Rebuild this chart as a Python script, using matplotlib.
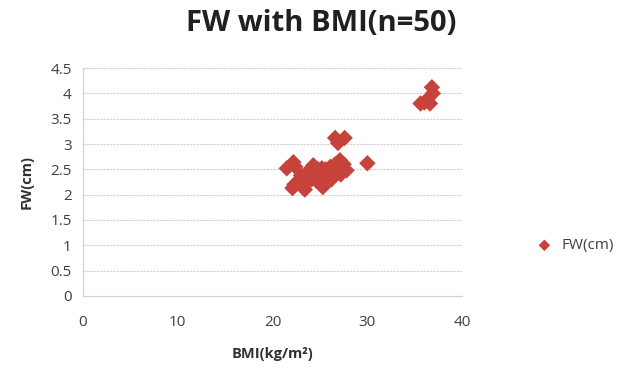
import numpy as np
import matplotlib.pyplot as plt

plt.rcParams['font.family'] = ['Open Sans', 'DejaVu Sans']

# BMI (kg/m^2) and FW (cm) (n=50, many overlap)
bmi = [21.5, 22.2, 22.4, 22.1, 22.3, 22.9, 23.4, 23.0, 23.5, 23.8,
       24.0, 24.2, 24.3, 24.5, 24.6, 24.8, 25.0, 25.1, 25.3, 25.5,
       25.6, 25.8, 26.0, 26.1, 26.3, 26.5, 26.6, 26.8, 27.0, 27.1,
       27.3, 27.5, 27.8, 23.2, 24.1, 25.2, 26.2, 27.2, 23.7, 24.9,
       26.6, 26.9, 27.6, 30.0, 35.6, 36.0, 36.3, 36.6, 36.9, 36.8]
fw = [2.52, 2.64, 2.55, 2.13, 2.2, 2.3, 2.1, 2.38, 2.25, 2.42,
      2.5, 2.35, 2.58, 2.45, 2.28, 2.5, 2.42, 2.3, 2.15, 2.4,
      2.5, 2.35, 2.45, 2.55, 2.4, 2.5, 2.6, 2.45, 2.55, 2.68,
      2.5, 2.6, 2.48, 2.2, 2.3, 2.52, 2.3, 2.4, 2.45, 2.35,
      3.12, 3.02, 3.12, 2.62, 3.8, 3.82, 3.87, 3.8, 4.0, 4.12]

xticks = [0, 10, 20, 30, 40]
yticks = [0, 0.5, 1, 1.5, 2, 2.5, 3, 3.5, 4, 4.5]

fig = plt.figure(figsize=(6.42, 3.78), dpi=100)
ax = fig.add_axes([0.129, 0.217, 0.591, 0.603])

ax.scatter(bmi, fw, marker='D', s=70, color='#C7423A', edgecolors='none',
           label='FW(cm)', zorder=3)

ax.set_xlim(0, 40)
ax.set_ylim(0, 4.5)
ax.set_xticks(xticks)
ax.set_yticks(yticks)
ax.set_yticklabels([f'{v:g}' for v in yticks])
ax.grid(axis='y', color='#d0d0d0', linestyle=(0, (2, 1)), linewidth=0.8)
ax.tick_params(length=0, labelsize=11, colors='#404040', pad=8)
ax.tick_params(axis='x', pad=14)
for side in ['top', 'right']:
    ax.spines[side].set_visible(False)
for side in ['left', 'bottom']:
    ax.spines[side].set_color('#d0d0d0')
    ax.spines[side].set_linewidth(0.8)

ax.set_xlabel('BMI(kg/m²)', fontsize=10.5, fontweight='bold', color='#303030', labelpad=12)
ax.set_ylabel('FW(cm)', fontsize=10.5, fontweight='bold', color='#303030', labelpad=12)
fig.suptitle('FW with BMI(n=50)', x=0.5, y=0.975, fontsize=21, fontweight='bold', color='#202020')

ax.legend(loc='center left', bbox_to_anchor=(1.14, 0.22), frameon=False,
          fontsize=11, handletextpad=0.1, markerscale=0.7, labelcolor='#404040')

fig.savefig('out.png', dpi=100)
